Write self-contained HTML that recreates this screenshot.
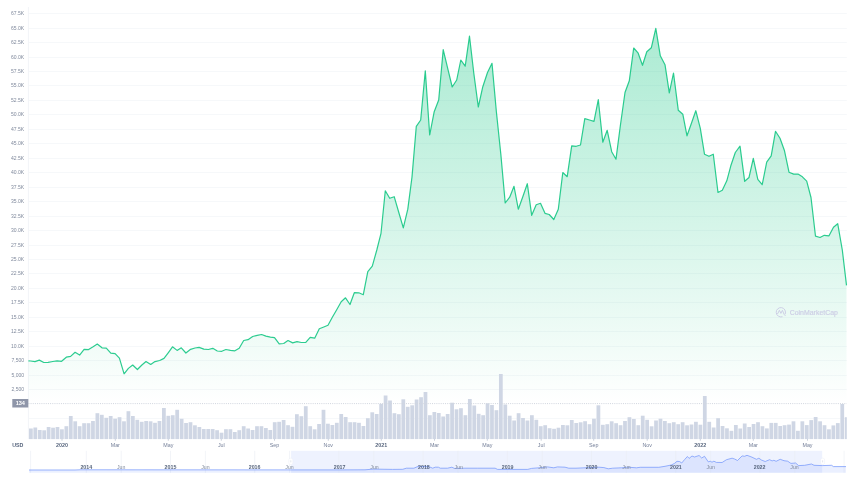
<!DOCTYPE html>
<html><head><meta charset="utf-8"><title>Chart</title>
<style>html,body{margin:0;padding:0;background:#fff;overflow:hidden}body{width:854px;height:480px;font-family:"Liberation Sans",sans-serif}svg{display:block}text{filter:blur(0.01px)}</style></head>
<body>
<svg width="854" height="480" viewBox="0 0 854 480">
<defs>
<linearGradient id="g" x1="0" y1="28" x2="0" y2="404" gradientUnits="userSpaceOnUse">
<stop offset="0" stop-color="#16c784" stop-opacity="0.36"/>
<stop offset="0.55" stop-color="#16c784" stop-opacity="0.17"/>
<stop offset="1" stop-color="#16c784" stop-opacity="0.0"/>
</linearGradient>
<clipPath id="cp"><rect x="28.4" y="0" width="818.4" height="445"/></clipPath>
<clipPath id="nv"><rect x="29" y="448" width="817.5" height="25"/></clipPath>
</defs>
<rect width="854" height="480" fill="#fff"/>
<line x1="28.4" x2="846.8" y1="13.50" y2="13.50" stroke="#f6f8fa" stroke-width="1"/>
<line x1="28.4" x2="846.8" y1="28.50" y2="28.50" stroke="#f6f8fa" stroke-width="1"/>
<line x1="28.4" x2="846.8" y1="42.50" y2="42.50" stroke="#f6f8fa" stroke-width="1"/>
<line x1="28.4" x2="846.8" y1="57.50" y2="57.50" stroke="#f6f8fa" stroke-width="1"/>
<line x1="28.4" x2="846.8" y1="71.50" y2="71.50" stroke="#f6f8fa" stroke-width="1"/>
<line x1="28.4" x2="846.8" y1="85.50" y2="85.50" stroke="#f6f8fa" stroke-width="1"/>
<line x1="28.4" x2="846.8" y1="100.50" y2="100.50" stroke="#f6f8fa" stroke-width="1"/>
<line x1="28.4" x2="846.8" y1="114.50" y2="114.50" stroke="#f6f8fa" stroke-width="1"/>
<line x1="28.4" x2="846.8" y1="129.50" y2="129.50" stroke="#f6f8fa" stroke-width="1"/>
<line x1="28.4" x2="846.8" y1="143.50" y2="143.50" stroke="#f6f8fa" stroke-width="1"/>
<line x1="28.4" x2="846.8" y1="158.50" y2="158.50" stroke="#f6f8fa" stroke-width="1"/>
<line x1="28.4" x2="846.8" y1="172.50" y2="172.50" stroke="#f6f8fa" stroke-width="1"/>
<line x1="28.4" x2="846.8" y1="187.50" y2="187.50" stroke="#f6f8fa" stroke-width="1"/>
<line x1="28.4" x2="846.8" y1="201.50" y2="201.50" stroke="#f6f8fa" stroke-width="1"/>
<line x1="28.4" x2="846.8" y1="216.50" y2="216.50" stroke="#f6f8fa" stroke-width="1"/>
<line x1="28.4" x2="846.8" y1="230.50" y2="230.50" stroke="#f6f8fa" stroke-width="1"/>
<line x1="28.4" x2="846.8" y1="245.50" y2="245.50" stroke="#f6f8fa" stroke-width="1"/>
<line x1="28.4" x2="846.8" y1="259.50" y2="259.50" stroke="#f6f8fa" stroke-width="1"/>
<line x1="28.4" x2="846.8" y1="273.50" y2="273.50" stroke="#f6f8fa" stroke-width="1"/>
<line x1="28.4" x2="846.8" y1="288.50" y2="288.50" stroke="#f6f8fa" stroke-width="1"/>
<line x1="28.4" x2="846.8" y1="302.50" y2="302.50" stroke="#f6f8fa" stroke-width="1"/>
<line x1="28.4" x2="846.8" y1="317.50" y2="317.50" stroke="#f6f8fa" stroke-width="1"/>
<line x1="28.4" x2="846.8" y1="331.50" y2="331.50" stroke="#f6f8fa" stroke-width="1"/>
<line x1="28.4" x2="846.8" y1="346.50" y2="346.50" stroke="#f6f8fa" stroke-width="1"/>
<line x1="28.4" x2="846.8" y1="360.50" y2="360.50" stroke="#f6f8fa" stroke-width="1"/>
<line x1="28.4" x2="846.8" y1="375.50" y2="375.50" stroke="#f6f8fa" stroke-width="1"/>
<line x1="28.4" x2="846.8" y1="389.50" y2="389.50" stroke="#f6f8fa" stroke-width="1"/>
<line x1="28.4" x2="846.8" y1="418.5" y2="418.5" stroke="#f6f8fa" stroke-width="1"/>
<line x1="28.4" x2="28.4" y1="7" y2="439.1" stroke="#f2f4f8" stroke-width="1"/>
<path d="M28.4,360.8 L30.6,361.0 L35.0,361.6 L39.3,360.1 L43.8,362.5 L48.1,362.4 L52.8,361.5 L57.1,360.9 L61.6,361.3 L66.3,357.2 L70.6,356.4 L75.1,352.3 L79.6,355.1 L84.1,349.4 L88.6,349.6 L93.1,346.8 L97.3,344.0 L102.0,347.8 L106.3,348.1 L110.8,353.2 L115.1,353.6 L119.4,358.1 L124.1,373.8 L128.4,368.4 L132.7,365.0 L137.4,369.5 L141.9,365.0 L146.0,361.5 L150.7,364.5 L155.0,361.6 L159.7,360.5 L164.0,358.4 L168.2,352.8 L172.5,346.8 L177.1,350.4 L181.3,347.8 L185.9,353.0 L190.6,349.3 L195.0,348.0 L199.1,347.4 L203.8,349.1 L208.3,349.5 L212.8,348.3 L217.3,351.0 L221.8,351.3 L225.9,349.5 L230.4,350.4 L234.9,350.8 L239.2,348.3 L243.7,340.5 L248.0,339.7 L252.7,336.5 L257.2,335.4 L261.6,334.5 L265.9,336.1 L270.4,337.1 L274.5,337.6 L279.2,343.8 L283.7,343.5 L288.0,340.5 L292.7,342.9 L297.0,341.6 L301.3,342.5 L305.8,342.3 L310.2,337.3 L314.7,338.2 L319.3,328.8 L323.8,327.0 L328.0,325.3 L332.2,317.5 L336.7,309.7 L341.2,301.7 L345.5,297.8 L350.0,304.5 L354.3,292.7 L358.8,292.8 L363.3,294.7 L367.8,271.7 L372.3,266.2 L376.8,250.0 L381.0,233.3 L385.3,190.8 L389.7,198.3 L394.2,196.7 L398.8,212.5 L403.3,227.8 L407.8,209.2 L412.0,177.0 L416.3,126.3 L420.7,120.0 L425.3,70.8 L429.7,135.0 L434.2,111.7 L438.7,100.0 L443.2,49.7 L447.7,68.3 L452.2,87.0 L456.7,80.0 L460.8,60.0 L465.2,66.2 L469.5,36.2 L473.8,73.3 L478.3,107.0 L482.8,86.7 L487.5,72.5 L492.0,63.3 L496.4,112.0 L500.9,155.0 L505.2,203.0 L509.7,197.2 L514.0,186.3 L518.3,209.2 L522.8,196.7 L527.3,183.7 L531.7,215.3 L536.2,204.7 L540.5,203.3 L545.0,213.3 L549.2,214.5 L553.8,219.5 L558.3,209.2 L562.8,172.5 L567.2,176.7 L571.7,145.8 L576.2,146.3 L580.5,145.0 L584.8,118.7 L589.5,120.0 L594.0,121.3 L598.3,99.7 L602.8,142.2 L607.2,130.3 L611.7,151.7 L616.0,159.2 L620.3,126.0 L625.0,92.5 L629.3,80.8 L633.7,48.0 L638.0,52.8 L642.5,65.3 L646.8,51.7 L651.3,47.8 L655.8,28.3 L660.3,55.8 L665.0,64.7 L669.3,92.8 L673.5,73.0 L678.3,110.3 L682.8,114.2 L687.0,135.8 L691.7,122.5 L695.8,110.7 L700.3,128.3 L704.5,154.2 L709.0,156.3 L713.3,154.2 L718.0,192.5 L722.3,190.3 L726.8,180.8 L730.8,165.8 L735.3,152.5 L740.0,146.2 L744.7,181.3 L749.0,177.5 L753.3,158.3 L757.8,179.4 L762.2,184.7 L766.7,162.2 L771.2,155.8 L775.5,131.3 L780.0,138.3 L784.5,150.8 L789.0,172.2 L793.7,174.1 L798.0,174.1 L802.4,176.8 L806.7,181.2 L811.0,197.5 L815.5,236.2 L820.0,237.5 L824.3,235.3 L829.0,235.8 L833.5,227.2 L837.7,223.7 L842.3,250.0 L846.5,285.4 L846.5,403.6 L28.4,403.6 Z" fill="url(#g)"/>
<g clip-path="url(#cp)" fill="#cfd6e4">
<rect x="29.00" y="428.5" width="3.75" height="10.6"/>
<rect x="33.43" y="427.5" width="3.75" height="11.6"/>
<rect x="37.87" y="430.0" width="3.75" height="9.1"/>
<rect x="42.30" y="430.3" width="3.75" height="8.8"/>
<rect x="46.73" y="427.0" width="3.75" height="12.1"/>
<rect x="51.17" y="427.7" width="3.75" height="11.4"/>
<rect x="55.60" y="427.0" width="3.75" height="12.1"/>
<rect x="60.04" y="429.3" width="3.75" height="9.8"/>
<rect x="64.47" y="426.2" width="3.75" height="12.9"/>
<rect x="68.90" y="416.0" width="3.75" height="23.1"/>
<rect x="73.34" y="421.3" width="3.75" height="17.8"/>
<rect x="77.77" y="426.2" width="3.75" height="12.9"/>
<rect x="82.20" y="423.2" width="3.75" height="15.9"/>
<rect x="86.64" y="423.2" width="3.75" height="15.9"/>
<rect x="91.07" y="421.0" width="3.75" height="18.1"/>
<rect x="95.51" y="413.2" width="3.75" height="25.9"/>
<rect x="99.94" y="414.8" width="3.75" height="24.3"/>
<rect x="104.37" y="417.8" width="3.75" height="21.3"/>
<rect x="108.81" y="416.0" width="3.75" height="23.1"/>
<rect x="113.24" y="418.7" width="3.75" height="20.4"/>
<rect x="117.67" y="417.2" width="3.75" height="21.9"/>
<rect x="122.11" y="421.3" width="3.75" height="17.8"/>
<rect x="126.54" y="411.2" width="3.75" height="27.9"/>
<rect x="130.98" y="416.0" width="3.75" height="23.1"/>
<rect x="135.41" y="419.8" width="3.75" height="19.3"/>
<rect x="139.84" y="421.8" width="3.75" height="17.3"/>
<rect x="144.28" y="421.0" width="3.75" height="18.1"/>
<rect x="148.71" y="421.3" width="3.75" height="17.8"/>
<rect x="153.14" y="422.8" width="3.75" height="16.3"/>
<rect x="157.58" y="421.0" width="3.75" height="18.1"/>
<rect x="162.01" y="408.0" width="3.75" height="31.1"/>
<rect x="166.44" y="415.8" width="3.75" height="23.3"/>
<rect x="170.88" y="415.2" width="3.75" height="23.9"/>
<rect x="175.31" y="409.8" width="3.75" height="29.3"/>
<rect x="179.75" y="418.8" width="3.75" height="20.3"/>
<rect x="184.18" y="423.0" width="3.75" height="16.1"/>
<rect x="188.61" y="422.2" width="3.75" height="16.9"/>
<rect x="193.05" y="425.3" width="3.75" height="13.8"/>
<rect x="197.48" y="427.0" width="3.75" height="12.1"/>
<rect x="201.91" y="429.0" width="3.75" height="10.1"/>
<rect x="206.35" y="429.0" width="3.75" height="10.1"/>
<rect x="210.78" y="429.0" width="3.75" height="10.1"/>
<rect x="215.22" y="430.2" width="3.75" height="8.9"/>
<rect x="219.65" y="432.7" width="3.75" height="6.4"/>
<rect x="224.08" y="429.2" width="3.75" height="9.9"/>
<rect x="228.52" y="429.2" width="3.75" height="9.9"/>
<rect x="232.95" y="432.0" width="3.75" height="7.1"/>
<rect x="237.38" y="430.2" width="3.75" height="8.9"/>
<rect x="241.82" y="426.2" width="3.75" height="12.9"/>
<rect x="246.25" y="428.5" width="3.75" height="10.6"/>
<rect x="250.69" y="430.0" width="3.75" height="9.1"/>
<rect x="255.12" y="426.2" width="3.75" height="12.9"/>
<rect x="259.55" y="426.2" width="3.75" height="12.9"/>
<rect x="263.99" y="428.0" width="3.75" height="11.1"/>
<rect x="268.42" y="430.0" width="3.75" height="9.1"/>
<rect x="272.85" y="422.2" width="3.75" height="16.9"/>
<rect x="277.29" y="421.8" width="3.75" height="17.3"/>
<rect x="281.72" y="420.0" width="3.75" height="19.1"/>
<rect x="286.15" y="425.2" width="3.75" height="13.9"/>
<rect x="290.59" y="426.8" width="3.75" height="12.3"/>
<rect x="295.02" y="414.2" width="3.75" height="24.9"/>
<rect x="299.46" y="416.2" width="3.75" height="22.9"/>
<rect x="303.89" y="406.2" width="3.75" height="32.9"/>
<rect x="308.32" y="426.2" width="3.75" height="12.9"/>
<rect x="312.76" y="429.3" width="3.75" height="9.8"/>
<rect x="317.19" y="424.0" width="3.75" height="15.1"/>
<rect x="321.62" y="409.8" width="3.75" height="29.3"/>
<rect x="326.06" y="423.7" width="3.75" height="15.4"/>
<rect x="330.49" y="425.0" width="3.75" height="14.1"/>
<rect x="334.93" y="422.8" width="3.75" height="16.3"/>
<rect x="339.36" y="414.0" width="3.75" height="25.1"/>
<rect x="343.79" y="417.0" width="3.75" height="22.1"/>
<rect x="348.23" y="422.2" width="3.75" height="16.9"/>
<rect x="352.66" y="422.2" width="3.75" height="16.9"/>
<rect x="357.09" y="422.8" width="3.75" height="16.3"/>
<rect x="361.53" y="426.0" width="3.75" height="13.1"/>
<rect x="365.96" y="418.2" width="3.75" height="20.9"/>
<rect x="370.39" y="412.3" width="3.75" height="26.8"/>
<rect x="374.83" y="414.0" width="3.75" height="25.1"/>
<rect x="379.26" y="403.8" width="3.75" height="35.3"/>
<rect x="383.70" y="395.5" width="3.75" height="43.6"/>
<rect x="388.13" y="400.5" width="3.75" height="38.6"/>
<rect x="392.56" y="413.2" width="3.75" height="25.9"/>
<rect x="397.00" y="414.2" width="3.75" height="24.9"/>
<rect x="401.43" y="399.3" width="3.75" height="39.8"/>
<rect x="405.86" y="406.8" width="3.75" height="32.3"/>
<rect x="410.30" y="405.3" width="3.75" height="33.8"/>
<rect x="414.73" y="399.5" width="3.75" height="39.6"/>
<rect x="419.17" y="397.2" width="3.75" height="41.9"/>
<rect x="423.60" y="392.0" width="3.75" height="47.1"/>
<rect x="428.03" y="415.2" width="3.75" height="23.9"/>
<rect x="432.47" y="412.0" width="3.75" height="27.1"/>
<rect x="436.90" y="413.0" width="3.75" height="26.1"/>
<rect x="441.33" y="416.5" width="3.75" height="22.6"/>
<rect x="445.77" y="414.0" width="3.75" height="25.1"/>
<rect x="450.20" y="402.7" width="3.75" height="36.4"/>
<rect x="454.64" y="409.3" width="3.75" height="29.8"/>
<rect x="459.07" y="408.2" width="3.75" height="30.9"/>
<rect x="463.50" y="415.2" width="3.75" height="23.9"/>
<rect x="467.94" y="399.0" width="3.75" height="40.1"/>
<rect x="472.37" y="405.5" width="3.75" height="33.6"/>
<rect x="476.80" y="413.8" width="3.75" height="25.3"/>
<rect x="481.24" y="415.2" width="3.75" height="23.9"/>
<rect x="485.67" y="403.3" width="3.75" height="35.8"/>
<rect x="490.10" y="405.0" width="3.75" height="34.1"/>
<rect x="494.54" y="410.2" width="3.75" height="28.9"/>
<rect x="498.97" y="374.0" width="3.75" height="65.1"/>
<rect x="503.41" y="404.5" width="3.75" height="34.6"/>
<rect x="507.84" y="415.7" width="3.75" height="23.4"/>
<rect x="512.27" y="420.5" width="3.75" height="18.6"/>
<rect x="516.71" y="413.2" width="3.75" height="25.9"/>
<rect x="521.14" y="418.0" width="3.75" height="21.1"/>
<rect x="525.57" y="420.5" width="3.75" height="18.6"/>
<rect x="530.01" y="415.2" width="3.75" height="23.9"/>
<rect x="534.44" y="419.8" width="3.75" height="19.3"/>
<rect x="538.88" y="426.2" width="3.75" height="12.9"/>
<rect x="543.31" y="425.2" width="3.75" height="13.9"/>
<rect x="547.74" y="428.2" width="3.75" height="10.9"/>
<rect x="552.18" y="428.8" width="3.75" height="10.3"/>
<rect x="556.61" y="427.7" width="3.75" height="11.4"/>
<rect x="561.04" y="425.0" width="3.75" height="14.1"/>
<rect x="565.48" y="425.3" width="3.75" height="13.8"/>
<rect x="569.91" y="420.0" width="3.75" height="19.1"/>
<rect x="574.35" y="423.0" width="3.75" height="16.1"/>
<rect x="578.78" y="422.3" width="3.75" height="16.8"/>
<rect x="583.21" y="421.2" width="3.75" height="17.9"/>
<rect x="587.65" y="424.2" width="3.75" height="14.9"/>
<rect x="592.08" y="418.7" width="3.75" height="20.4"/>
<rect x="596.51" y="405.3" width="3.75" height="33.8"/>
<rect x="600.95" y="424.8" width="3.75" height="14.3"/>
<rect x="605.38" y="424.2" width="3.75" height="14.9"/>
<rect x="609.81" y="421.3" width="3.75" height="17.8"/>
<rect x="614.25" y="423.2" width="3.75" height="15.9"/>
<rect x="618.68" y="425.2" width="3.75" height="13.9"/>
<rect x="623.12" y="421.0" width="3.75" height="18.1"/>
<rect x="627.55" y="417.2" width="3.75" height="21.9"/>
<rect x="631.98" y="419.0" width="3.75" height="20.1"/>
<rect x="636.42" y="425.2" width="3.75" height="13.9"/>
<rect x="640.85" y="415.7" width="3.75" height="23.4"/>
<rect x="645.28" y="419.8" width="3.75" height="19.3"/>
<rect x="649.72" y="426.3" width="3.75" height="12.8"/>
<rect x="654.15" y="420.5" width="3.75" height="18.6"/>
<rect x="658.59" y="418.7" width="3.75" height="20.4"/>
<rect x="663.02" y="421.0" width="3.75" height="18.1"/>
<rect x="667.45" y="423.2" width="3.75" height="15.9"/>
<rect x="671.89" y="422.2" width="3.75" height="16.9"/>
<rect x="676.32" y="424.2" width="3.75" height="14.9"/>
<rect x="680.75" y="422.2" width="3.75" height="16.9"/>
<rect x="685.19" y="425.3" width="3.75" height="13.8"/>
<rect x="689.62" y="424.5" width="3.75" height="14.6"/>
<rect x="694.05" y="421.8" width="3.75" height="17.3"/>
<rect x="698.49" y="424.7" width="3.75" height="14.4"/>
<rect x="702.92" y="396.0" width="3.75" height="43.1"/>
<rect x="707.36" y="421.8" width="3.75" height="17.3"/>
<rect x="711.79" y="427.5" width="3.75" height="11.6"/>
<rect x="716.22" y="418.2" width="3.75" height="20.9"/>
<rect x="720.66" y="426.0" width="3.75" height="13.1"/>
<rect x="725.09" y="428.3" width="3.75" height="10.8"/>
<rect x="729.52" y="430.8" width="3.75" height="8.3"/>
<rect x="733.96" y="425.0" width="3.75" height="14.1"/>
<rect x="738.39" y="428.5" width="3.75" height="10.6"/>
<rect x="742.83" y="423.5" width="3.75" height="15.6"/>
<rect x="747.26" y="427.0" width="3.75" height="12.1"/>
<rect x="751.69" y="424.0" width="3.75" height="15.1"/>
<rect x="756.13" y="422.2" width="3.75" height="16.9"/>
<rect x="760.56" y="426.2" width="3.75" height="12.9"/>
<rect x="764.99" y="428.4" width="3.75" height="10.7"/>
<rect x="769.43" y="422.9" width="3.75" height="16.2"/>
<rect x="773.86" y="422.9" width="3.75" height="16.2"/>
<rect x="778.30" y="426.0" width="3.75" height="13.1"/>
<rect x="782.73" y="425.2" width="3.75" height="13.9"/>
<rect x="787.16" y="424.6" width="3.75" height="14.5"/>
<rect x="791.60" y="421.3" width="3.75" height="17.8"/>
<rect x="796.03" y="430.8" width="3.75" height="8.3"/>
<rect x="800.46" y="421.3" width="3.75" height="17.8"/>
<rect x="804.90" y="425.1" width="3.75" height="14.0"/>
<rect x="809.33" y="420.1" width="3.75" height="19.0"/>
<rect x="813.76" y="417.0" width="3.75" height="22.1"/>
<rect x="818.20" y="421.3" width="3.75" height="17.8"/>
<rect x="822.63" y="425.2" width="3.75" height="13.9"/>
<rect x="827.07" y="429.3" width="3.75" height="9.8"/>
<rect x="831.50" y="425.4" width="3.75" height="13.7"/>
<rect x="835.93" y="423.1" width="3.75" height="16.0"/>
<rect x="840.37" y="404.0" width="3.75" height="35.1"/>
<rect x="844.80" y="417.2" width="3.75" height="21.9"/>
</g>
<line x1="28.4" x2="846.8" y1="403.6" y2="403.6" stroke="#d0d5de" stroke-width="1" stroke-dasharray="1 1.17"/>
<path d="M28.4,360.8 L30.6,361.0 L35.0,361.6 L39.3,360.1 L43.8,362.5 L48.1,362.4 L52.8,361.5 L57.1,360.9 L61.6,361.3 L66.3,357.2 L70.6,356.4 L75.1,352.3 L79.6,355.1 L84.1,349.4 L88.6,349.6 L93.1,346.8 L97.3,344.0 L102.0,347.8 L106.3,348.1 L110.8,353.2 L115.1,353.6 L119.4,358.1 L124.1,373.8 L128.4,368.4 L132.7,365.0 L137.4,369.5 L141.9,365.0 L146.0,361.5 L150.7,364.5 L155.0,361.6 L159.7,360.5 L164.0,358.4 L168.2,352.8 L172.5,346.8 L177.1,350.4 L181.3,347.8 L185.9,353.0 L190.6,349.3 L195.0,348.0 L199.1,347.4 L203.8,349.1 L208.3,349.5 L212.8,348.3 L217.3,351.0 L221.8,351.3 L225.9,349.5 L230.4,350.4 L234.9,350.8 L239.2,348.3 L243.7,340.5 L248.0,339.7 L252.7,336.5 L257.2,335.4 L261.6,334.5 L265.9,336.1 L270.4,337.1 L274.5,337.6 L279.2,343.8 L283.7,343.5 L288.0,340.5 L292.7,342.9 L297.0,341.6 L301.3,342.5 L305.8,342.3 L310.2,337.3 L314.7,338.2 L319.3,328.8 L323.8,327.0 L328.0,325.3 L332.2,317.5 L336.7,309.7 L341.2,301.7 L345.5,297.8 L350.0,304.5 L354.3,292.7 L358.8,292.8 L363.3,294.7 L367.8,271.7 L372.3,266.2 L376.8,250.0 L381.0,233.3 L385.3,190.8 L389.7,198.3 L394.2,196.7 L398.8,212.5 L403.3,227.8 L407.8,209.2 L412.0,177.0 L416.3,126.3 L420.7,120.0 L425.3,70.8 L429.7,135.0 L434.2,111.7 L438.7,100.0 L443.2,49.7 L447.7,68.3 L452.2,87.0 L456.7,80.0 L460.8,60.0 L465.2,66.2 L469.5,36.2 L473.8,73.3 L478.3,107.0 L482.8,86.7 L487.5,72.5 L492.0,63.3 L496.4,112.0 L500.9,155.0 L505.2,203.0 L509.7,197.2 L514.0,186.3 L518.3,209.2 L522.8,196.7 L527.3,183.7 L531.7,215.3 L536.2,204.7 L540.5,203.3 L545.0,213.3 L549.2,214.5 L553.8,219.5 L558.3,209.2 L562.8,172.5 L567.2,176.7 L571.7,145.8 L576.2,146.3 L580.5,145.0 L584.8,118.7 L589.5,120.0 L594.0,121.3 L598.3,99.7 L602.8,142.2 L607.2,130.3 L611.7,151.7 L616.0,159.2 L620.3,126.0 L625.0,92.5 L629.3,80.8 L633.7,48.0 L638.0,52.8 L642.5,65.3 L646.8,51.7 L651.3,47.8 L655.8,28.3 L660.3,55.8 L665.0,64.7 L669.3,92.8 L673.5,73.0 L678.3,110.3 L682.8,114.2 L687.0,135.8 L691.7,122.5 L695.8,110.7 L700.3,128.3 L704.5,154.2 L709.0,156.3 L713.3,154.2 L718.0,192.5 L722.3,190.3 L726.8,180.8 L730.8,165.8 L735.3,152.5 L740.0,146.2 L744.7,181.3 L749.0,177.5 L753.3,158.3 L757.8,179.4 L762.2,184.7 L766.7,162.2 L771.2,155.8 L775.5,131.3 L780.0,138.3 L784.5,150.8 L789.0,172.2 L793.7,174.1 L798.0,174.1 L802.4,176.8 L806.7,181.2 L811.0,197.5 L815.5,236.2 L820.0,237.5 L824.3,235.3 L829.0,235.8 L833.5,227.2 L837.7,223.7 L842.3,250.0 L846.5,285.4" fill="none" stroke="#16c784" stroke-opacity="0.9" stroke-width="1.2" stroke-linejoin="round" stroke-linecap="butt"/>
<text x="24.1" y="14.90" text-anchor="end" font-family="Liberation Sans, sans-serif" font-size="5.05" fill="#808a9d">67.5K</text>
<text x="24.1" y="29.90" text-anchor="end" font-family="Liberation Sans, sans-serif" font-size="5.05" fill="#808a9d">65.0K</text>
<text x="24.1" y="43.90" text-anchor="end" font-family="Liberation Sans, sans-serif" font-size="5.05" fill="#808a9d">62.5K</text>
<text x="24.1" y="58.90" text-anchor="end" font-family="Liberation Sans, sans-serif" font-size="5.05" fill="#808a9d">60.0K</text>
<text x="24.1" y="72.90" text-anchor="end" font-family="Liberation Sans, sans-serif" font-size="5.05" fill="#808a9d">57.5K</text>
<text x="24.1" y="86.90" text-anchor="end" font-family="Liberation Sans, sans-serif" font-size="5.05" fill="#808a9d">55.0K</text>
<text x="24.1" y="101.90" text-anchor="end" font-family="Liberation Sans, sans-serif" font-size="5.05" fill="#808a9d">52.5K</text>
<text x="24.1" y="115.90" text-anchor="end" font-family="Liberation Sans, sans-serif" font-size="5.05" fill="#808a9d">50.0K</text>
<text x="24.1" y="130.90" text-anchor="end" font-family="Liberation Sans, sans-serif" font-size="5.05" fill="#808a9d">47.5K</text>
<text x="24.1" y="144.90" text-anchor="end" font-family="Liberation Sans, sans-serif" font-size="5.05" fill="#808a9d">45.0K</text>
<text x="24.1" y="159.90" text-anchor="end" font-family="Liberation Sans, sans-serif" font-size="5.05" fill="#808a9d">42.5K</text>
<text x="24.1" y="173.90" text-anchor="end" font-family="Liberation Sans, sans-serif" font-size="5.05" fill="#808a9d">40.0K</text>
<text x="24.1" y="188.90" text-anchor="end" font-family="Liberation Sans, sans-serif" font-size="5.05" fill="#808a9d">37.5K</text>
<text x="24.1" y="202.90" text-anchor="end" font-family="Liberation Sans, sans-serif" font-size="5.05" fill="#808a9d">35.0K</text>
<text x="24.1" y="217.90" text-anchor="end" font-family="Liberation Sans, sans-serif" font-size="5.05" fill="#808a9d">32.5K</text>
<text x="24.1" y="231.90" text-anchor="end" font-family="Liberation Sans, sans-serif" font-size="5.05" fill="#808a9d">30.0K</text>
<text x="24.1" y="246.90" text-anchor="end" font-family="Liberation Sans, sans-serif" font-size="5.05" fill="#808a9d">27.5K</text>
<text x="24.1" y="260.90" text-anchor="end" font-family="Liberation Sans, sans-serif" font-size="5.05" fill="#808a9d">25.0K</text>
<text x="24.1" y="274.90" text-anchor="end" font-family="Liberation Sans, sans-serif" font-size="5.05" fill="#808a9d">22.5K</text>
<text x="24.1" y="289.90" text-anchor="end" font-family="Liberation Sans, sans-serif" font-size="5.05" fill="#808a9d">20.0K</text>
<text x="24.1" y="303.90" text-anchor="end" font-family="Liberation Sans, sans-serif" font-size="5.05" fill="#808a9d">17.5K</text>
<text x="24.1" y="318.90" text-anchor="end" font-family="Liberation Sans, sans-serif" font-size="5.05" fill="#808a9d">15.0K</text>
<text x="24.1" y="332.90" text-anchor="end" font-family="Liberation Sans, sans-serif" font-size="5.05" fill="#808a9d">12.5K</text>
<text x="24.1" y="347.90" text-anchor="end" font-family="Liberation Sans, sans-serif" font-size="5.05" fill="#808a9d">10.0K</text>
<text x="24.1" y="361.90" text-anchor="end" font-family="Liberation Sans, sans-serif" font-size="5.05" fill="#808a9d">7,500</text>
<text x="24.1" y="376.90" text-anchor="end" font-family="Liberation Sans, sans-serif" font-size="5.05" fill="#808a9d">5,000</text>
<text x="24.1" y="390.90" text-anchor="end" font-family="Liberation Sans, sans-serif" font-size="5.05" fill="#808a9d">2,500</text>
<rect x="12.3" y="399.0" width="16.0" height="8.5" fill="#8f96a9"/>
<text x="20.3" y="405.2" text-anchor="middle" font-family="Liberation Sans, sans-serif" font-size="5.6" font-weight="bold" fill="#fff">134</text>
<line x1="62" x2="62" y1="439.1" y2="440.70000000000005" stroke="#a6b0c3" stroke-width="0.6"/>
<text x="62" y="446.7" text-anchor="middle" font-family="Liberation Sans, sans-serif" font-size="5.35" font-weight="bold" fill="#58667e">2020</text>
<line x1="115.3" x2="115.3" y1="439.1" y2="440.70000000000005" stroke="#a6b0c3" stroke-width="0.6"/>
<text x="115.3" y="446.7" text-anchor="middle" font-family="Liberation Sans, sans-serif" font-size="5.35" fill="#76819a">Mar</text>
<line x1="168.3" x2="168.3" y1="439.1" y2="440.70000000000005" stroke="#a6b0c3" stroke-width="0.6"/>
<text x="168.3" y="446.7" text-anchor="middle" font-family="Liberation Sans, sans-serif" font-size="5.35" fill="#76819a">May</text>
<line x1="221.3" x2="221.3" y1="439.1" y2="440.70000000000005" stroke="#a6b0c3" stroke-width="0.6"/>
<text x="221.3" y="446.7" text-anchor="middle" font-family="Liberation Sans, sans-serif" font-size="5.35" fill="#76819a">Jul</text>
<line x1="274.5" x2="274.5" y1="439.1" y2="440.70000000000005" stroke="#a6b0c3" stroke-width="0.6"/>
<text x="274.5" y="446.7" text-anchor="middle" font-family="Liberation Sans, sans-serif" font-size="5.35" fill="#76819a">Sep</text>
<line x1="328.3" x2="328.3" y1="439.1" y2="440.70000000000005" stroke="#a6b0c3" stroke-width="0.6"/>
<text x="328.3" y="446.7" text-anchor="middle" font-family="Liberation Sans, sans-serif" font-size="5.35" fill="#76819a">Nov</text>
<line x1="381.3" x2="381.3" y1="439.1" y2="440.70000000000005" stroke="#a6b0c3" stroke-width="0.6"/>
<text x="381.3" y="446.7" text-anchor="middle" font-family="Liberation Sans, sans-serif" font-size="5.35" font-weight="bold" fill="#58667e">2021</text>
<line x1="434.5" x2="434.5" y1="439.1" y2="440.70000000000005" stroke="#a6b0c3" stroke-width="0.6"/>
<text x="434.5" y="446.7" text-anchor="middle" font-family="Liberation Sans, sans-serif" font-size="5.35" fill="#76819a">Mar</text>
<line x1="487.3" x2="487.3" y1="439.1" y2="440.70000000000005" stroke="#a6b0c3" stroke-width="0.6"/>
<text x="487.3" y="446.7" text-anchor="middle" font-family="Liberation Sans, sans-serif" font-size="5.35" fill="#76819a">May</text>
<line x1="541.2" x2="541.2" y1="439.1" y2="440.70000000000005" stroke="#a6b0c3" stroke-width="0.6"/>
<text x="541.2" y="446.7" text-anchor="middle" font-family="Liberation Sans, sans-serif" font-size="5.35" fill="#76819a">Jul</text>
<line x1="593.7" x2="593.7" y1="439.1" y2="440.70000000000005" stroke="#a6b0c3" stroke-width="0.6"/>
<text x="593.7" y="446.7" text-anchor="middle" font-family="Liberation Sans, sans-serif" font-size="5.35" fill="#76819a">Sep</text>
<line x1="647.2" x2="647.2" y1="439.1" y2="440.70000000000005" stroke="#a6b0c3" stroke-width="0.6"/>
<text x="647.2" y="446.7" text-anchor="middle" font-family="Liberation Sans, sans-serif" font-size="5.35" fill="#76819a">Nov</text>
<line x1="700.3" x2="700.3" y1="439.1" y2="440.70000000000005" stroke="#a6b0c3" stroke-width="0.6"/>
<text x="700.3" y="446.7" text-anchor="middle" font-family="Liberation Sans, sans-serif" font-size="5.35" font-weight="bold" fill="#58667e">2022</text>
<line x1="753.3" x2="753.3" y1="439.1" y2="440.70000000000005" stroke="#a6b0c3" stroke-width="0.6"/>
<text x="753.3" y="446.7" text-anchor="middle" font-family="Liberation Sans, sans-serif" font-size="5.35" fill="#76819a">Mar</text>
<line x1="807.5" x2="807.5" y1="439.1" y2="440.70000000000005" stroke="#a6b0c3" stroke-width="0.6"/>
<text x="807.5" y="446.7" text-anchor="middle" font-family="Liberation Sans, sans-serif" font-size="5.35" fill="#76819a">May</text>
<text x="12.2" y="447.2" font-family="Liberation Sans, sans-serif" font-size="5.3" font-weight="bold" fill="#58667e">USD</text>
<g opacity="0.75"><path d="M782.12,316.84 A4.7,4.7 0 1 1 785.32,313.91" fill="none" stroke="#c3bfe0" stroke-width="1" stroke-linecap="round"/><path d="M776.5,313.7 L777.7,313.7 L779.4,310.3 L780.9,313.4 L782.4,310.3 L784.1,314.3 L785.2,315.6" fill="none" stroke="#c3bfe0" stroke-width="1" stroke-linejoin="round" stroke-linecap="round"/><text x="789.7" y="314.9" font-family="Liberation Sans, sans-serif" font-size="6.95" fill="#c3bfe0" stroke="#c3bfe0" stroke-width="0.18" textLength="48.2" lengthAdjust="spacing">CoinMarketCap</text></g>
<rect x="291.1" y="450.8" width="531.1" height="22.0" fill="#eef2fe"/>
<line x1="86.3" x2="86.3" y1="450.8" y2="472.8" stroke="#e9ecf4" stroke-width="0.6"/>
<line x1="121.2" x2="121.2" y1="450.8" y2="472.8" stroke="#e9ecf4" stroke-width="0.6"/>
<line x1="170.5" x2="170.5" y1="450.8" y2="472.8" stroke="#e9ecf4" stroke-width="0.6"/>
<line x1="205.4" x2="205.4" y1="450.8" y2="472.8" stroke="#e9ecf4" stroke-width="0.6"/>
<line x1="254.7" x2="254.7" y1="450.8" y2="472.8" stroke="#e9ecf4" stroke-width="0.6"/>
<line x1="289.6" x2="289.6" y1="450.8" y2="472.8" stroke="#e9ecf4" stroke-width="0.6"/>
<line x1="338.9" x2="338.9" y1="450.8" y2="472.8" stroke="#e9ecf4" stroke-width="0.6"/>
<line x1="373.8" x2="373.8" y1="450.8" y2="472.8" stroke="#e9ecf4" stroke-width="0.6"/>
<line x1="423.1" x2="423.1" y1="450.8" y2="472.8" stroke="#e9ecf4" stroke-width="0.6"/>
<line x1="458.0" x2="458.0" y1="450.8" y2="472.8" stroke="#e9ecf4" stroke-width="0.6"/>
<line x1="507.3" x2="507.3" y1="450.8" y2="472.8" stroke="#e9ecf4" stroke-width="0.6"/>
<line x1="542.2" x2="542.2" y1="450.8" y2="472.8" stroke="#e9ecf4" stroke-width="0.6"/>
<line x1="591.5" x2="591.5" y1="450.8" y2="472.8" stroke="#e9ecf4" stroke-width="0.6"/>
<line x1="626.4" x2="626.4" y1="450.8" y2="472.8" stroke="#e9ecf4" stroke-width="0.6"/>
<line x1="675.7" x2="675.7" y1="450.8" y2="472.8" stroke="#e9ecf4" stroke-width="0.6"/>
<line x1="710.6" x2="710.6" y1="450.8" y2="472.8" stroke="#e9ecf4" stroke-width="0.6"/>
<line x1="759.9" x2="759.9" y1="450.8" y2="472.8" stroke="#e9ecf4" stroke-width="0.6"/>
<line x1="794.8" x2="794.8" y1="450.8" y2="472.8" stroke="#e9ecf4" stroke-width="0.6"/>
<line x1="844.1" x2="844.1" y1="450.8" y2="472.8" stroke="#e9ecf4" stroke-width="0.6"/>
<line x1="30.6" x2="30.6" y1="450.8" y2="472.8" stroke="#e9ecf4" stroke-width="0.6"/>
<path d="M29.0,470.0 L75.0,470.0 L80.0,469.8 L290.0,469.9 L340.0,469.9 L365.0,469.8 L373.2,469.1 L392.6,469.4 L402.7,469.3 L406.4,468.2 L413.9,468.2 L418.3,466.3 L421.5,466.6 L426.0,466.4 L429.6,466.9 L432.7,468.2 L435.2,467.2 L438.4,467.2 L440.3,468.2 L447.5,468.2 L451.9,467.2 L454.4,468.4 L465.0,468.2 L477.6,468.2 L495.1,468.2 L497.6,469.4 L527.7,469.4 L531.5,468.4 L539.0,467.8 L547.5,466.9 L553.8,467.8 L557.5,466.9 L565.0,467.2 L568.8,468.2 L576.0,468.2 L585.0,467.8 L598.9,467.2 L603.9,467.6 L608.3,468.8 L612.7,468.2 L621.5,467.8 L627.7,467.2 L636.5,467.8 L640.2,467.3 L658.8,467.3 L665.0,466.3 L671.3,465.0 L674.5,463.4 L677.0,461.3 L679.5,461.5 L681.7,463.0 L684.5,459.7 L687.4,456.5 L689.1,458.4 L692.0,456.0 L694.5,457.0 L699.1,455.5 L701.7,458.0 L704.5,456.3 L708.3,461.9 L710.2,461.2 L712.0,462.2 L713.9,461.2 L716.4,462.4 L722.1,462.5 L726.5,459.7 L732.1,458.2 L734.6,459.0 L737.5,460.5 L742.1,455.9 L744.6,456.3 L747.0,455.3 L752.0,457.2 L756.4,459.3 L758.9,458.2 L761.4,460.0 L765.2,461.5 L769.6,459.7 L772.1,460.9 L773.9,460.3 L776.1,461.3 L780.2,459.3 L784.0,460.7 L787.7,461.2 L790.9,463.4 L795.6,463.0 L798.6,465.6 L804.6,465.3 L811.5,464.0 L814.0,465.3 L822.2,465.6 L831.6,465.3 L833.5,466.6 L846.0,466.6 L846,472.8 L29,472.8 Z" fill="#6188ff" fill-opacity="0.13"/>
<path d="M29.0,470.0 L75.0,470.0 L80.0,469.8 L290.0,469.9 L340.0,469.9 L365.0,469.8 L373.2,469.1 L392.6,469.4 L402.7,469.3 L406.4,468.2 L413.9,468.2 L418.3,466.3 L421.5,466.6 L426.0,466.4 L429.6,466.9 L432.7,468.2 L435.2,467.2 L438.4,467.2 L440.3,468.2 L447.5,468.2 L451.9,467.2 L454.4,468.4 L465.0,468.2 L477.6,468.2 L495.1,468.2 L497.6,469.4 L527.7,469.4 L531.5,468.4 L539.0,467.8 L547.5,466.9 L553.8,467.8 L557.5,466.9 L565.0,467.2 L568.8,468.2 L576.0,468.2 L585.0,467.8 L598.9,467.2 L603.9,467.6 L608.3,468.8 L612.7,468.2 L621.5,467.8 L627.7,467.2 L636.5,467.8 L640.2,467.3 L658.8,467.3 L665.0,466.3 L671.3,465.0 L674.5,463.4 L677.0,461.3 L679.5,461.5 L681.7,463.0 L684.5,459.7 L687.4,456.5 L689.1,458.4 L692.0,456.0 L694.5,457.0 L699.1,455.5 L701.7,458.0 L704.5,456.3 L708.3,461.9 L710.2,461.2 L712.0,462.2 L713.9,461.2 L716.4,462.4 L722.1,462.5 L726.5,459.7 L732.1,458.2 L734.6,459.0 L737.5,460.5 L742.1,455.9 L744.6,456.3 L747.0,455.3 L752.0,457.2 L756.4,459.3 L758.9,458.2 L761.4,460.0 L765.2,461.5 L769.6,459.7 L772.1,460.9 L773.9,460.3 L776.1,461.3 L780.2,459.3 L784.0,460.7 L787.7,461.2 L790.9,463.4 L795.6,463.0 L798.6,465.6 L804.6,465.3 L811.5,464.0 L814.0,465.3 L822.2,465.6 L831.6,465.3 L833.5,466.6 L846.0,466.6" fill="none" stroke="#6f92fb" stroke-width="0.7" stroke-linejoin="round"/>
<text x="86.3" y="469.2" text-anchor="middle" font-family="Liberation Sans, sans-serif" font-size="5.3" font-weight="bold" fill="#58667e">2014</text>
<text x="121.2" y="469.2" text-anchor="middle" font-family="Liberation Sans, sans-serif" font-size="5.2" fill="#808a9d">Jun</text>
<text x="170.5" y="469.2" text-anchor="middle" font-family="Liberation Sans, sans-serif" font-size="5.3" font-weight="bold" fill="#58667e">2015</text>
<text x="205.4" y="469.2" text-anchor="middle" font-family="Liberation Sans, sans-serif" font-size="5.2" fill="#808a9d">Jun</text>
<text x="254.6" y="469.2" text-anchor="middle" font-family="Liberation Sans, sans-serif" font-size="5.3" font-weight="bold" fill="#58667e">2016</text>
<text x="289.5" y="469.2" text-anchor="middle" font-family="Liberation Sans, sans-serif" font-size="5.2" fill="#808a9d">Jun</text>
<text x="339.6" y="469.2" text-anchor="middle" font-family="Liberation Sans, sans-serif" font-size="5.3" font-weight="bold" fill="#58667e">2017</text>
<text x="374.5" y="469.2" text-anchor="middle" font-family="Liberation Sans, sans-serif" font-size="5.2" fill="#808a9d">Jun</text>
<text x="423.9" y="469.2" text-anchor="middle" font-family="Liberation Sans, sans-serif" font-size="5.3" font-weight="bold" fill="#58667e">2018</text>
<text x="458.8" y="469.2" text-anchor="middle" font-family="Liberation Sans, sans-serif" font-size="5.2" fill="#808a9d">Jun</text>
<text x="507.6" y="469.2" text-anchor="middle" font-family="Liberation Sans, sans-serif" font-size="5.3" font-weight="bold" fill="#58667e">2019</text>
<text x="542.5" y="469.2" text-anchor="middle" font-family="Liberation Sans, sans-serif" font-size="5.2" fill="#808a9d">Jun</text>
<text x="591.6" y="469.2" text-anchor="middle" font-family="Liberation Sans, sans-serif" font-size="5.3" font-weight="bold" fill="#58667e">2020</text>
<text x="626.5" y="469.2" text-anchor="middle" font-family="Liberation Sans, sans-serif" font-size="5.2" fill="#808a9d">Jun</text>
<text x="675.9" y="469.2" text-anchor="middle" font-family="Liberation Sans, sans-serif" font-size="5.3" font-weight="bold" fill="#58667e">2021</text>
<text x="710.8" y="469.2" text-anchor="middle" font-family="Liberation Sans, sans-serif" font-size="5.2" fill="#808a9d">Jun</text>
<text x="759.6" y="469.2" text-anchor="middle" font-family="Liberation Sans, sans-serif" font-size="5.3" font-weight="bold" fill="#58667e">2022</text>
<text x="794.5" y="469.2" text-anchor="middle" font-family="Liberation Sans, sans-serif" font-size="5.2" fill="#808a9d">Jun</text>
<rect x="288.8" y="458.2" width="4" height="6.3" rx="1.6" fill="#fff" stroke="#eceff6" stroke-width="0.5"/>
<line x1="290.8" x2="290.8" y1="460.3" y2="462.4" stroke="#c6ccd9" stroke-width="0.5"/>
<rect x="820.6" y="458.2" width="4" height="6.3" rx="1.6" fill="#fff" stroke="#eceff6" stroke-width="0.5"/>
<line x1="822.6" x2="822.6" y1="460.3" y2="462.4" stroke="#c6ccd9" stroke-width="0.5"/>
</svg>
</body></html>
